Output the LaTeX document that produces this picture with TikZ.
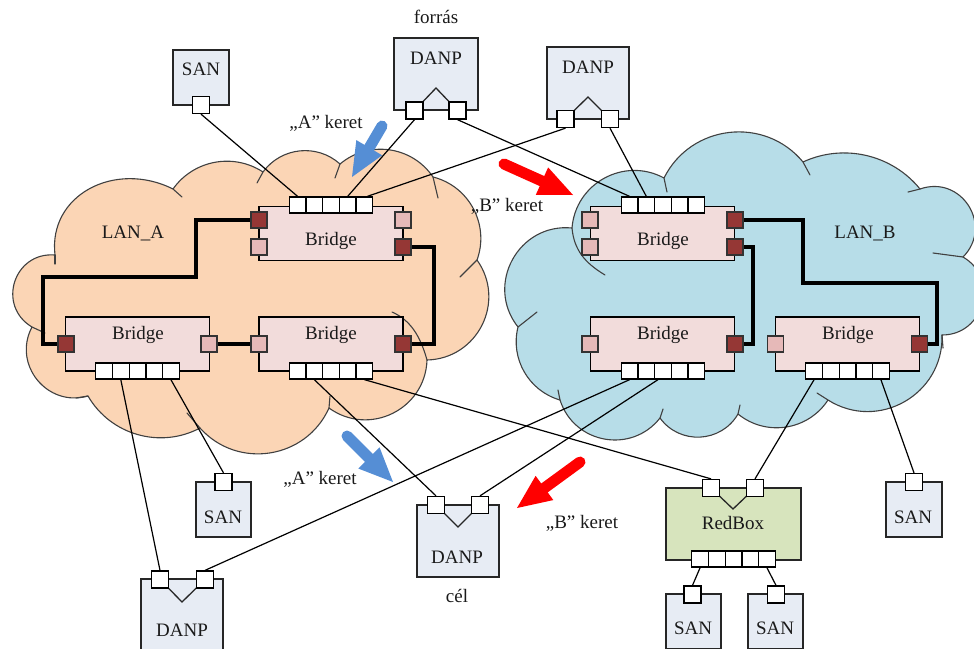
\documentclass[tikz,border=0pt]{standalone}
\usepackage{fontspec}
\setmainfont{Liberation Serif}
\usetikzlibrary{calc}

\definecolor{lanA}{HTML}{FBD5B5}
\definecolor{lanB}{HTML}{B7DDE8}
\definecolor{cloudline}{HTML}{404040}
\definecolor{bridgefill}{HTML}{F2DCDB}
\definecolor{portdark}{HTML}{953735}
\definecolor{portlight}{HTML}{E6B9B8}
\definecolor{devfill}{HTML}{E7ECF4}
\definecolor{redboxfill}{HTML}{D7E4BD}
\definecolor{arrowblue}{HTML}{558ED5}
\definecolor{arrowred}{HTML}{FF0000}
\definecolor{ink}{HTML}{1A1A1A}

\pgfdeclarelayer{cloudlayer}
\pgfdeclarelayer{linklayer}
\pgfsetlayers{cloudlayer,linklayer,main}

% a row of five connection cells, named #1-1 ... #1-5, centred at (#2,#3)
\newcommand\portstrip[3]{%
  \foreach \k in {1,...,5}{%
    \node[cell] (#1-\k) at ({#2+(\k-3)*16.7},#3) {};}}

% a broad arrow from #2 (tail) to #3 (tip); #4 names the base of the head
\newcommand\fatarrow[4]{%
  \coordinate (#4) at ($(#3)!34pt!(#2)$);
  \draw[#1, line width=11pt, line cap=round] (#2) -- ($(#3)!30pt!(#2)$);
  \fill[#1] ($(#4)!15pt!90:(#3)$) -- (#3) -- ($(#4)!15pt!-90:(#3)$) -- cycle;}

\begin{document}
\begin{tikzpicture}[x=1pt,y=-1pt,
  every node/.style={font=\fontsize{19}{22}\selectfont, text=ink},
  lan/.style={draw=cloudline, line width=1.1pt, line join=round},
  crease/.style={draw=cloudline, line width=1.1pt, line cap=round},
  lobeF/.style={bend left=38, looseness=0.95},
  lobeT/.style={bend left=44, looseness=0.99},
  lobeS/.style={bend left=48, looseness=1.02},
  lobeM/.style={bend left=57, looseness=1.10},
  lobeN/.style={bend left=62, looseness=1.16},
  lobeB/.style={bend left=67, looseness=1.22},
  lobeR/.style={bend left=75, looseness=1.34},
  lobeW/.style={bend left=77, looseness=1.40},
  bridge/.style={draw=black, fill=bridgefill, line width=1.6pt,
    minimum width=144pt, minimum height=54pt, inner sep=0pt},
  device/.style={draw=black!85, fill=devfill, line width=1.6pt, inner sep=0pt},
  redbox/.style={device, fill=redboxfill},
  cell/.style={draw=black, fill=white, line width=1.3pt,
    minimum width=16.7pt, minimum height=16pt, inner sep=0pt},
  devport/.style={draw=black, fill=white, line width=1.3pt,
    minimum size=17pt, inner sep=0pt},
  pdark/.style={draw=black!80, fill=portdark, line width=1.1pt,
    minimum size=16pt, inner sep=0pt},
  plight/.style={draw=black!80, fill=portlight, line width=1.1pt,
    minimum size=16pt, inner sep=0pt},
  link/.style={draw=black, line width=1.2pt},
  ring/.style={draw=black, line width=4pt, line join=miter},
  vee/.style={draw=black!85, line width=1.3pt}
]
\useasboundingbox (0,0) rectangle (974,648);
\clip (0,0) rectangle (974,648);

% ---------------- bridges ----------------
\node[bridge] (a1) at (331,233.5) {};
\node[bridge] (a2) at (137.5,344) {};
\node[bridge] (a3) at (331,344) {};
\node[bridge] (b1) at (662.5,233.5) {};
\node[bridge] (b2) at (662.5,344) {};
\node[bridge] (b3) at (847.5,344) {};
\node (a1t) at (331,241) {Bridge};
\node (a2t) at (138,335) {Bridge};
\node (a3t) at (331,335) {Bridge};
\node (b1t) at (663,241) {Bridge};
\node (b2t) at (663,335) {Bridge};
\node (b3t) at (848,335) {Bridge};

\node[pdark]  (a1l1) at (259,220) {};
\node[plight] (a1l2) at (259,247) {};
\node[plight] (a1r1) at (403,220) {};
\node[pdark]  (a1r2) at (403,247) {};
\node[pdark]  (a2l)  at (66,344) {};
\node[plight] (a2r)  at (209,344) {};
\node[plight] (a3l)  at (259,344) {};
\node[pdark]  (a3r)  at (403,344) {};
\node[plight] (b1l1) at (590,220) {};
\node[plight] (b1l2) at (590,247) {};
\node[pdark]  (b1r1) at (735,220) {};
\node[pdark]  (b1r2) at (735,247) {};
\node[plight] (b2l)  at (590,344) {};
\node[pdark]  (b2r)  at (735,344) {};
\node[plight] (b3l)  at (775.5,344) {};
\node[pdark]  (b3r)  at (919.5,344) {};

\portstrip{a1}{331}{205}
\portstrip{a2}{137.5}{371}
\portstrip{a3}{331}{371}
\portstrip{b1}{663}{205}
\portstrip{b2}{663}{371}
\portstrip{b3}{847.5}{371}

% ---------------- end devices ----------------
% SAN, top left
\node[device, minimum width=56pt, minimum height=55pt] (s1) at (201,77.5) {};
\node (s1t) at (201,69) {SAN};
\node[devport] (s1p) at (201,105) {};

% DANP, source
\node (src) at (436,17) {forrás};
\node[device, minimum width=84pt, minimum height=72pt] (d1) at (436,74) {};
\node (d1t) at (436,58) {DANP};
\draw[vee] (414.5,110.5) -- (436,88) -- (457.5,110.5);
\node[devport] (d1p1) at (414.5,110.5) {};
\node[devport] (d1p2) at (457.5,110.5) {};

% DANP, top right
\node[device, minimum width=82pt, minimum height=72pt] (d2) at (588,83) {};
\node (d2t) at (588,67) {DANP};
\draw[vee] (565.5,119) -- (588,97) -- (610,119);
\node[devport] (d2p1) at (565.5,119) {};
\node[devport] (d2p2) at (610,119) {};

% DANP, destination
\node[device, minimum width=82pt, minimum height=72pt] (d3) at (458,541) {};
\node (d3t) at (457,557) {DANP};
\node (dst) at (457,596) {cél};
\draw[vee] (436,505) -- (458,527) -- (480,505);
\node[devport] (d3p1) at (436,505) {};
\node[devport] (d3p2) at (480,505) {};

% DANP, bottom left
\node[device, minimum width=82pt, minimum height=72pt] (d4) at (182,615) {};
\node (d4t) at (182,630) {DANP};
\draw[vee] (160,579.5) -- (182,602) -- (205,579.5);
\node[devport] (d4p1) at (160,579.5) {};
\node[devport] (d4p2) at (205,579.5) {};

% SAN below LAN_A
\node[device, minimum width=55pt, minimum height=55pt] (s2) at (223.5,509.5) {};
\node (s2t) at (223,517) {SAN};
\node[devport] (s2p) at (223.5,482) {};

% RedBox with its two SANs
\node[redbox, minimum width=135pt, minimum height=72pt] (rb) at (733.5,524) {};
\node (rbt) at (733,523) {RedBox};
\draw[vee] (711,488) -- (733,509) -- (755,488);
\node[devport] (rbp1) at (711,488) {};
\node[devport] (rbp2) at (755,488) {};
\portstrip{rb}{733.5}{559}

\node[device, minimum width=55pt, minimum height=55pt] (s3) at (693.5,621.5) {};
\node (s3t) at (693,628) {SAN};
\node[devport] (s3p) at (692.5,594.5) {};
\node[device, minimum width=55pt, minimum height=55pt] (s4) at (775.5,621.5) {};
\node (s4t) at (775,628) {SAN};
\node[devport] (s4p) at (776,594.5) {};

% SAN below LAN_B
\node[device, minimum width=56pt, minimum height=55pt] (s5) at (914,509.5) {};
\node (s5t) at (913,517) {SAN};
\node[devport] (s5p) at (914,482) {};

% ---------------- labels ----------------
\node (lanAt) at (133,233) {LAN\_A};
\node (lanBt) at (865,233) {LAN\_B};
\node (ka1) at (326,123) {„A” keret};
\node (kb1) at (507,206) {„B” keret};
\node (ka2) at (320,479) {„A” keret};
\node (kb2) at (582,523) {„B” keret};

% ---------------- frame flow arrows ----------------
\coordinate (ab1t) at (382,126);
\coordinate (ab1h) at (352,177);
\coordinate (ar1t) at (504,164);
\coordinate (ar1h) at (573,195);
\coordinate (ab2t) at (347,436);
\coordinate (ab2h) at (393,482);
\coordinate (ar2t) at (580,462);
\coordinate (ar2h) at (517,508);
\fatarrow{arrowblue}{ab1t}{ab1h}{ab1b}
\fatarrow{arrowred}{ar1t}{ar1h}{ar1b}
\fatarrow{arrowblue}{ab2t}{ab2h}{ab2b}
\fatarrow{arrowred}{ar2t}{ar2h}{ar2b}

% ---------------- links and rings ----------------
\begin{pgfonlayer}{linklayer}
  \draw[link] (s1p.south) -- (a1-1.north);
  \draw[link] (d1p1.south) -- (a1-4.north);
  \draw[link] (d2p1.south) -- ([xshift=3pt]a1-5.north);
  \draw[link] (d1p2.south) -- (b1-1.north);
  \draw[link] (d2p2.south) -- (b1-2.north);
  \draw[link] (a2-2.south) -- (d4p1.north);
  \draw[link] (a2-5.south) -- (s2p.north);
  \draw[link] (a3-2.south) -- (d3p1.north);
  \draw[link] (a3-5.south) -- (rbp1.north);
  \draw[link] (b2-1.south) -- (d4p2.north);
  \draw[link] ([xshift=-5pt]b2-3.south) -- (d3p2.north);
  \draw[link] (b3-1.south) -- (rbp2.north);
  \draw[link] (b3-5.south) -- (s5p.north);
  \draw[link] (rb-1.south) -- (s3p.north);
  \draw[link] (rb-5.south) -- (s4p.north);

  \draw[ring] (a1l1.west) -| (196,277) -| (43,344) -- (a2l.west);
  \draw[ring] (a1r2.east) -| (434,344) -- (a3r.east);
  \draw[ring] (a2r.east) -- (a3l.west);
  \draw[ring] (b1r1.east) -| (803,283) -| (937,344) -- (b3r.east);
  \draw[ring] (b1r2.east) -| (753,344) -- (b2r.east);
\end{pgfonlayer}

% ---------------- clouds ----------------
\begin{pgfonlayer}{cloudlayer}
  \path[lan, fill=lanA] (32,327) to[lobeW] (55,255)
    .. controls (48,195) and (115,160) .. (173,189)
    to[lobeT] (263,172) to[lobeS] (340,164) to[lobeS] (433,177)
    to[lobeS] (477,260) to[lobeN] (427,360) to[lobeN] (329,408)
    to[lobeM] (200,428) to[lobeT] (88,396) to[lobeB] (32,327) -- cycle;
  \draw[crease] (32,327) -- (45,333);
  \draw[crease] (55,255) -- (55,264);
  \draw[crease] (173,189) -- (182,197);
  \draw[crease] (263,172) -- (257,183);
  \draw[crease] (340,164) -- (335,178);
  \draw[crease] (433,177) -- (438,198);
  \draw[crease] (477,260) -- (460,277);
  \draw[crease] (427,360) .. controls (420,335) and (410,320) .. (392,312);
  \draw[crease] (329,408) -- (330,396);
  \draw[crease] (200,428) -- (187,413);
  \draw[crease] (88,396) -- (76,398);

  \path[lan, fill=lanB] (518,327) to[lobeB] (572,228) to[lobeM] (664,178)
    to[lobeM] (803,162) to[lobeF] (920,189) to[lobeW] (963,257)
    to[lobeR] (942,335) to[lobeN] (828,400) to[lobeS] (738,414)
    to[lobeM] (660,418) to[lobeN] (560,400) to[lobeT] (518,327) -- cycle;
  \draw[crease] (518,327) -- (537,312);
  \draw[crease] (572,228) .. controls (574,250) and (585,263) .. (605,275);
  \draw[crease] (664,178) -- (667,192);
  \draw[crease] (803,162) -- (810,175);
  \draw[crease] (920,189) -- (908,192);
  \draw[crease] (963,257) -- (933,253);
  \draw[crease] (942,335) -- (943,348);
  \draw[crease] (828,400) -- (817,393);
  \draw[crease] (738,414) -- (740,405);
  \draw[crease] (660,418) -- (663,409);
  \draw[crease] (560,400) -- (558,390);
\end{pgfonlayer}
\end{tikzpicture}
\end{document}
